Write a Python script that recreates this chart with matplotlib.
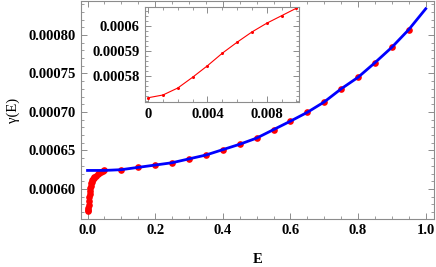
import numpy as np
import matplotlib
matplotlib.use("Agg")
import matplotlib.pyplot as plt
from matplotlib.ticker import MultipleLocator, FixedLocator

# --- datos ---
# puntos densos cerca de E=0 (los mismos del recuadro)
E_small = [0.000, 0.001, 0.002, 0.003, 0.004, 0.005, 0.006, 0.007, 0.008, 0.009, 0.010]
g_small = [0.0005713, 0.0005724, 0.0005752, 0.0005795, 0.0005841, 0.0005891,
           0.0005935, 0.0005976, 0.0006011, 0.0006041, 0.0006071]

E_mid = [0.012, 0.014, 0.016, 0.018, 0.020, 0.025, 0.030, 0.035, 0.040, 0.045]
g_mid = [0.000609, 0.000611, 0.000613, 0.000614, 0.000615, 0.000617,
         0.000619, 0.000621, 0.000622, 0.000623]

E_pts = [0.05, 0.10, 0.15, 0.20, 0.25, 0.30, 0.35, 0.40, 0.45, 0.50,
         0.55, 0.60, 0.65, 0.70, 0.75, 0.80, 0.85, 0.90, 0.95]
g_pts = [0.000624, 0.000625, 0.000628, 0.000631, 0.000634, 0.000639, 0.000644,
         0.000651, 0.000658, 0.000666, 0.000677, 0.000688, 0.0006995, 0.000713,
         0.000730, 0.000745, 0.000764, 0.000784, 0.000807]

# curva ajustada (azul)
E_fit = [0.0, 0.05, 0.10, 0.15, 0.20, 0.25, 0.30, 0.35, 0.40, 0.45, 0.50,
         0.55, 0.60, 0.65, 0.70, 0.75, 0.80, 0.85, 0.90, 0.95, 1.0]
g_fit = [0.0006240, 0.000624, 0.000625, 0.000628, 0.000631, 0.000634, 0.000639,
         0.000644, 0.000651, 0.000658, 0.000666, 0.000677, 0.000688, 0.0006995,
         0.000713, 0.000730, 0.000745, 0.000764, 0.000784, 0.000807, 0.000834]

# ticks con etiqueta en el recuadro
inset_xticks = [0, 0.004, 0.008]
inset_yticks = [0.00058, 0.00059, 0.0006]

plt.rcParams['font.family'] = ['Liberation Serif', 'DejaVu Serif']
FRAME = '#8c8c8c'
FS = 10.5


def style_frame(ax):
    for s in ax.spines.values():
        s.set_color(FRAME)
        s.set_linewidth(0.8)
    ax.tick_params(which='both', direction='in', top=True, right=True,
                   color=FRAME, labelsize=FS, pad=4)
    ax.tick_params(which='major', length=4, width=0.7)
    ax.tick_params(which='minor', length=2, width=0.6)
    for lab in ax.get_xticklabels() + ax.get_yticklabels():
        lab.set_fontweight('bold')


fig = plt.figure(figsize=(4.36, 2.67), dpi=100)
ax = fig.add_axes([0.186, 0.180, 0.809, 0.816])

E_all = E_small + E_mid + E_pts
g_all = g_small + g_mid + g_pts
ax.plot(E_all, g_all, 'o', color='red', markersize=4.8, markeredgewidth=0, zorder=2)
ax.plot(E_fit, g_fit, '-', color='#0000ff', linewidth=2.0, zorder=3)

ax.set_xlim(-0.019, 1.024)
ax.set_ylim(0.000561, 0.000844)
ax.xaxis.set_major_locator(MultipleLocator(0.2))
ax.xaxis.set_minor_locator(MultipleLocator(0.05))
ax.yaxis.set_major_locator(MultipleLocator(0.00005))
ax.yaxis.set_minor_locator(MultipleLocator(0.00001))
ax.xaxis.set_major_formatter(plt.FuncFormatter(lambda v, p: f"{v:.1f}"))
ax.yaxis.set_major_formatter(plt.FuncFormatter(lambda v, p: f"{v:.5f}"))
style_frame(ax)
ax.set_xlabel('E', fontsize=FS, fontweight='bold', labelpad=11)
ax.set_ylabel('γ(E)', fontsize=FS, labelpad=6)

# --- recuadro ---
axi = fig.add_axes([0.333, 0.618, 0.353, 0.356])
axi.plot(E_small, g_small, '-', color='red', linewidth=0.8,
         marker='o', markersize=2.2, markeredgewidth=0)
axi.set_xlim(-0.0002, 0.01018)
axi.set_ylim(0.0005696, 0.0006076)
axi.xaxis.set_major_locator(FixedLocator(inset_xticks))
axi.xaxis.set_minor_locator(MultipleLocator(0.001))
axi.yaxis.set_major_locator(FixedLocator(inset_yticks))
axi.yaxis.set_minor_locator(MultipleLocator(0.000002))
axi.xaxis.set_major_formatter(plt.FuncFormatter(lambda v, p: "0" if v == 0 else f"{v:.3f}"))
axi.yaxis.set_major_formatter(plt.FuncFormatter(lambda v, p: f"{v:.5f}".rstrip('0')))
style_frame(axi)

fig.savefig('out.png', dpi=100)
